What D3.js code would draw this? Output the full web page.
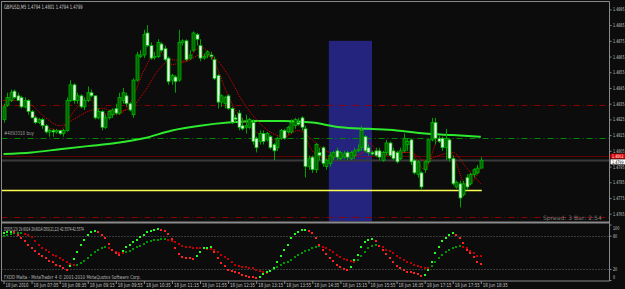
<!DOCTYPE html>
<html>
<head>
<meta charset="utf-8">
<script src="https://cdnjs.cloudflare.com/ajax/libs/d3/7.8.5/d3.min.js"></script>
<style>
body { margin: 0; background: #000; }
text { font-family: "DejaVu Sans", sans-serif; }
</style>
</head>
<body>
<div id="chart-area"></div>
<script>
// GBPUSD M5 bars, 18 Jun 2010
var opens = [1.4825,1.4834,1.4837,1.4843,1.4840,1.4839,1.4833,1.4837,1.4830,1.4826,1.4823,1.4825,1.4821,1.4817,1.4818,1.4817,1.4818,1.4816,1.4818,1.4837,
 1.4847,1.4837,1.4840,1.4833,1.4837,1.4842,1.4840,1.4826,1.4830,1.4820,1.4826,1.4828,1.4832,1.4829,1.4837,1.4840,1.4835,1.4828,1.4850,1.4865,
 1.4866,1.4880,1.4872,1.4865,1.4865,1.4873,1.4870,1.4864,1.4850,1.4852,1.4850,1.4874,1.4875,1.4864,1.4869,1.4879,1.4872,1.4864,1.4866,1.4866,
 1.4863,1.4853,1.4836,1.4835,1.4840,1.4832,1.4826,1.4829,1.4821,1.4820,1.4820,1.4823,1.4813,1.4811,1.4816,1.4812,1.4814,1.4809,1.4807,1.4813,
 1.4818,1.4817,1.4817,1.4821,1.4823,1.4826,1.4819,1.4795,1.4801,1.4793,1.4804,1.4807,1.4795,1.4797,1.4801,1.4805,1.4800,1.4801,1.4804,1.4800,
 1.4802,1.4805,1.4807,1.4814,1.4807,1.4804,1.4805,1.4805,1.4799,1.4804,1.4810,1.4805,1.4804,1.4800,1.4805,1.4809,1.4812,1.4799,1.4790,1.4791,
 1.4793,1.4798,1.4812,1.4823,1.4813,1.4813,1.4807,1.4812,1.4800,1.4782,1.4784,1.4777,1.4788,1.4784,1.4790,1.4791,1.4794];
var highs = [1.4835,1.4842,1.4844,1.4844,1.4842,1.4840,1.4839,1.4838,1.4831,1.4827,1.4826,1.4826,1.4822,1.4819,1.4819,1.4819,1.4818,1.4819,1.4839,1.4850,
 1.4848,1.4842,1.4841,1.4839,1.4846,1.4844,1.4840,1.4832,1.4831,1.4828,1.4831,1.4832,1.4835,1.4842,1.4845,1.4842,1.4836,1.4851,1.4868,1.4869,
 1.4882,1.4885,1.4874,1.4868,1.4876,1.4874,1.4872,1.4865,1.4854,1.4853,1.4882,1.4876,1.4876,1.4869,1.4881,1.4880,1.4876,1.4867,1.4869,1.4868,
 1.4865,1.4854,1.4841,1.4840,1.4841,1.4833,1.4828,1.4831,1.4826,1.4828,1.4826,1.4825,1.4814,1.4818,1.4818,1.4817,1.4815,1.4810,1.4814,1.4819,
 1.4819,1.4821,1.4825,1.4826,1.4826,1.4827,1.4821,1.4802,1.4802,1.4810,1.4807,1.4808,1.4800,1.4804,1.4805,1.4807,1.4805,1.4805,1.4805,1.4805,
 1.4807,1.4809,1.4821,1.4815,1.4809,1.4805,1.4807,1.4807,1.4805,1.4812,1.4811,1.4807,1.4805,1.4807,1.4816,1.4813,1.4813,1.4800,1.4799,1.4792,
 1.4799,1.4813,1.4826,1.4826,1.4815,1.4814,1.4819,1.4813,1.4802,1.4786,1.4786,1.4786,1.4790,1.4791,1.4794,1.4796,1.4801];
var lows = [1.4823,1.4833,1.4836,1.4838,1.4837,1.4832,1.4832,1.4828,1.4826,1.4822,1.4822,1.4819,1.4816,1.4814,1.4814,1.4816,1.4815,1.4814,1.4817,1.4836,
 1.4835,1.4835,1.4832,1.4831,1.4836,1.4839,1.4825,1.4825,1.4818,1.4819,1.4825,1.4826,1.4828,1.4828,1.4835,1.4833,1.4830,1.4826,1.4849,1.4864,
 1.4864,1.4871,1.4863,1.4863,1.4864,1.4868,1.4862,1.4847,1.4847,1.4842,1.4849,1.4872,1.4862,1.4863,1.4868,1.4872,1.4862,1.4863,1.4864,1.4863,
 1.4850,1.4832,1.4833,1.4832,1.4831,1.4822,1.4823,1.4818,1.4818,1.4816,1.4819,1.4809,1.4804,1.4809,1.4809,1.4811,1.4806,1.4799,1.4805,1.4812,
 1.4812,1.4816,1.4816,1.4819,1.4821,1.4818,1.4788,1.4793,1.4791,1.4791,1.4799,1.4795,1.4793,1.4795,1.4799,1.4799,1.4799,1.4800,1.4799,1.4799,
 1.4800,1.4804,1.4805,1.4804,1.4802,1.4802,1.4801,1.4799,1.4798,1.4802,1.4801,1.4799,1.4797,1.4799,1.4804,1.4805,1.4796,1.4790,1.4788,1.4780,
 1.4791,1.4797,1.4811,1.4809,1.4810,1.4805,1.4799,1.4798,1.4783,1.4781,1.4769,1.4776,1.4780,1.4783,1.4788,1.4790,1.4794];
var closes = [1.4833,1.4839,1.4842,1.4839,1.4837,1.4833,1.4837,1.4830,1.4826,1.4823,1.4825,1.4821,1.4817,1.4818,1.4817,1.4818,1.4816,1.4818,1.4837,1.4847,
 1.4837,1.4840,1.4833,1.4837,1.4842,1.4840,1.4826,1.4830,1.4820,1.4826,1.4830,1.4831,1.4829,1.4839,1.4842,1.4835,1.4831,1.4850,1.4866,1.4866,
 1.4879,1.4872,1.4864,1.4865,1.4874,1.4869,1.4863,1.4849,1.4853,1.4849,1.4874,1.4875,1.4863,1.4866,1.4880,1.4876,1.4864,1.4865,1.4868,1.4865,
 1.4851,1.4836,1.4840,1.4839,1.4832,1.4823,1.4825,1.4820,1.4819,1.4821,1.4825,1.4811,1.4807,1.4816,1.4811,1.4816,1.4807,1.4805,1.4813,1.4818,
 1.4813,1.4820,1.4823,1.4825,1.4822,1.4820,1.4795,1.4800,1.4793,1.4809,1.4802,1.4797,1.4799,1.4802,1.4804,1.4801,1.4804,1.4803,1.4801,1.4804,
 1.4805,1.4806,1.4818,1.4805,1.4804,1.4803,1.4802,1.4801,1.4804,1.4810,1.4802,1.4800,1.4798,1.4805,1.4813,1.4811,1.4798,1.4791,1.4798,1.4782,
 1.4798,1.4812,1.4823,1.4813,1.4811,1.4807,1.4813,1.4800,1.4784,1.4785,1.4775,1.4784,1.4782,1.4790,1.4793,1.4794,1.4799];

// moving averages (red ones sampled every 4 bars, green every 8 bars)
var maFastBars = d3.range(0, 137, 4);
var maFast = [1.4837,1.4839,1.4830,1.4821,1.4818,1.4830,1.4839,1.4829,1.4828,1.4835,1.4856,1.4869,1.4860,1.4862,1.4871,1.4862,1.4840,1.4825,
 1.4817,1.4812,1.4813,1.4822,1.4805,1.4800,1.4802,1.4804,1.4810,1.4802,1.4804,1.4804,1.4793,1.4812,1.4802,1.4783,1.4794];
var maSlow = [1.4837,1.4837,1.4834,1.4826,1.4821,1.4825,1.4830,1.4832,1.4830,1.4832,1.4842,1.4856,1.4863,1.4862,1.4866,1.4864,1.4853,1.4837,
 1.4825,1.4817,1.4814,1.4818,1.4812,1.4805,1.4802,1.4802,1.4805,1.4804,1.4804,1.4804,1.4799,1.4802,1.4804,1.4794,1.4784];
var maLongBars = d3.range(0, 137, 8);
var maLong = [1.4803,1.4804,1.4806,1.4808,1.4810,1.4813,1.4818,1.4821,1.4823,1.4824,1.4824,1.4823,1.4820,1.4819,1.4818,1.4816,1.4815,1.4814];

// horizontal levels
var levelRedTop = 1.4834;
var levelGreen = 1.4813;
var levelRedMid = 1.4802;
var levelBid = 1.4799;
var levelYellow = 1.4780;
var levelRedLow = 1.4763;
var boxBars = [92.7, 105];
var boxPrices = [1.4875, 1.4750];

// DSS indicator values
var dssFast = [84,86,87,86,82,76,70,63,57,52,47,43,39,35,32,28,25,22,19,26,
 38,51,63,72,81,86,88,86,82,76,65,54,48,45,52,59,63,68,72,77,
 82,87,89,90,92,91,88,83,74,58,47,42,40,39,38,44,50,57,58,59,
 50,40,30,25,19,16,14,12,9,7,6,5,4,6,11,15,17,22,33,44,
 55,64,75,83,87,90,91,89,84,75,64,55,47,40,34,28,23,20,18,24,
 37,46,60,68,72,74,70,62,55,47,40,32,26,22,18,15,14,13,11,7,
 10,19,33,48,60,70,76,81,85,81,75,66,55,48,41,33,29.6];
var dssSlow = [80,82,83,84,84,84,83,81,77,70,63,58,54,50,46,43,40,36,32,29,
 27,28,31,35,40,45,50,55,58,59,57,54,51,49,48,50,53,56,59,62,
 65,68,70,72,73,74,74.5,73,71,68,65,62,60,59,58.5,58,57.5,57,56.5,56,
 54,50,46,42,38,33,28,25,24,23,22,21,19,17,15,13,16,20,24,27,
 30,33,37,42,46,49,52,55,58,60,61,60,57,54,51,46,42,38,36,34,
 33.5,37,43,50,57,62,63,61,59,55,52,48,44,40,37,33,30,27,25,24,
 22.5,22,26,32,39,46,51,55,58,60,61,60,58,53,49,44,42.6];
var dssLevels = [80, 20];

// axis labels
var timeLabels = ["18 Jun 2010","18 Jun 07:05","18 Jun 08:35","18 Jun 09:15","18 Jun 09:55","18 Jun 10:35","18 Jun 11:15","18 Jun 11:55","18 Jun 12:35",
 "18 Jun 13:15","18 Jun 13:55","18 Jun 14:35","18 Jun 15:15","18 Jun 15:55","18 Jun 16:35","18 Jun 17:15","18 Jun 17:55","18 Jun 18:35"];
var priceTicks = d3.range(1.4765, 1.48951, 0.001);
var dssTicks = [100, 80, 20, 0];

var width = 625;
var height = 289;
var panel = { left: 1.5, right: 609.5, top: 1.5, mid: 222.5, bottom: 281 };
var labelColor = "#c8c8c8";

var svg = d3.select("#chart-area").append("svg")
    .attr("width", width)
    .attr("height", height)
    .style("display", "block")
    .style("background", "#0b0c0b");

//x scale (bar index)
var x = d3.scaleLinear().domain([0, 136]).range([3.5, 480.8]);
//y scales
var y = d3.scaleLinear().domain([1.4765, 1.4895]).range([213.7, 9.4]);
var yDss = d3.scaleLinear().domain([0, 100]).range([280.1, 224.6]);

// squeeze texts horizontally to the tiny terminal font width
function squeeze(sel, len) {
    sel.each(function (d, i) {
        var t = d3.select(this);
        var w = this.getComputedTextLength();
        var target = typeof len === "function" ? len(d, i) : len;
        var x0 = +t.attr("x") || 0;
        t.attr("x", 0)
            .attr("transform", "translate(" + x0 + ",0) scale(" + (target / w) + ",1)");
    });
    return sel;
}
function smallText(sel, px, len, txt, size) {
    var t = sel.append("g")
        .attr("transform", "translate(0," + px[1] + ")")
        .append("text")
        .attr("x", px[0])
        .attr("font-size", size || 6)
        .text(txt);
    squeeze(t, len);
    return t;
}

var defs = svg.append("defs");
defs.append("clipPath").attr("id", "clipMain").append("rect")
    .attr("x", panel.left).attr("y", panel.top)
    .attr("width", panel.right - panel.left).attr("height", panel.mid - panel.top - 1);
defs.append("clipPath").attr("id", "clipDss").append("rect")
    .attr("x", panel.left).attr("y", panel.mid + 1)
    .attr("width", panel.right - panel.left).attr("height", panel.bottom - panel.mid - 1);

var main = svg.append("g").attr("clip-path", "url(#clipMain)");

//box
main.append("rect")
    .attr("x", x(boxBars[0]))
    .attr("y", y(boxPrices[0]))
    .attr("width", x(boxBars[1]) - x(boxBars[0]))
    .attr("height", y(boxPrices[1]) - y(boxPrices[0]))
    .attr("fill", "#24247e");

//horizontal levels
function hline(price, color, dash, w, x2) {
    main.append("line")
        .attr("x1", panel.left).attr("x2", x2 || panel.right)
        .attr("y1", Math.round(y(price)) + 0.5).attr("y2", Math.round(y(price)) + 0.5)
        .attr("stroke", color)
        .attr("stroke-width", w)
        .attr("stroke-dasharray", dash);
}
hline(levelRedTop, "#8c0000", "6,3,1,3", 1);
hline(levelGreen, "#008a00", "6,3,1,3", 1);
hline(levelRedMid, "#b40000", "1,1", 1);
hline(levelBid, "#3a3a3a", null, 2);
hline(levelRedLow, "#8c0000", "6,3,1,3", 1);
hline(levelYellow, "#ffff50", null, 1.5, x(136) + 1);

//level label
smallText(main, [4, y(levelGreen) - 3], 30, "#4893318 buy", 5.5).attr("fill", "#a0a0a0");

//long MA
var lineLong = d3.line()
    .x(function (d, i) { return x(maLongBars[i]); })
    .y(function (d) { return y(d); })
    .curve(d3.curveMonotoneX);
main.append("path")
    .attr("d", lineLong(maLong))
    .attr("fill", "none")
    .attr("stroke", "#2eea2e")
    .attr("stroke-width", 2);

//red MAs
var lineFast = d3.line()
    .x(function (d, i) { return x(maFastBars[i]); })
    .y(function (d) { return y(d); })
    .curve(d3.curveMonotoneX);
[maFast, maSlow].forEach(function (ma) {
    main.append("path")
        .attr("d", lineFast(ma))
        .attr("fill", "none")
        .attr("stroke", "#d80000")
        .attr("stroke-width", 1)
        .attr("stroke-dasharray", "1.2,1");
});

//candles
var bars = d3.range(opens.length);
main.selectAll(".wick").data(bars).enter()
    .append("line")
    .attr("x1", function (i) { return Math.round(x(i)) + 0.5; })
    .attr("x2", function (i) { return Math.round(x(i)) + 0.5; })
    .attr("y1", function (i) { return y(highs[i]); })
    .attr("y2", function (i) { return y(lows[i]); })
    .attr("stroke", "#00a000");

main.selectAll(".body").data(bars).enter()
    .append("rect")
    .attr("x", function (i) { return Math.round(x(i)) - 1; })
    .attr("y", function (i) { return y(Math.max(opens[i], closes[i])); })
    .attr("width", 3)
    .attr("height", function (i) { return Math.max(1, Math.abs(y(opens[i]) - y(closes[i]))); })
    .attr("fill", function (i) { return closes[i] >= opens[i] ? "#006400" : "#eaffea"; })
    .attr("stroke", "#00b400")
    .attr("stroke-width", 0.8);

//texts in main panel
smallText(svg, [4, 9], 79, "GBPUSD,M5  1.4794 1.4801 1.4794 1.4799").attr("fill", labelColor);
smallText(svg, [543, 220], 59, "Spread: 3    Bar: 2:54").attr("fill", "#7a7a7a");

//dss panel
var dss = svg.append("g").attr("clip-path", "url(#clipDss)");
dssLevels.forEach(function (v) {
    dss.append("line")
        .attr("x1", panel.left).attr("x2", panel.right)
        .attr("y1", Math.round(yDss(v)) + 0.5).attr("y2", Math.round(yDss(v)) + 0.5)
        .attr("stroke", "#6a6a6a")
        .attr("stroke-dasharray", "1,2");
});

function dots(values, up, down) {
    dss.selectAll(null).data(values).enter()
        .append("rect")
        .attr("x", function (d, i) { return Math.round(x(i)) - 1; })
        .attr("y", function (d) { return Math.round(yDss(d)) - 1; })
        .attr("width", 2)
        .attr("height", 2)
        .attr("fill", function (d, i) { return i > 0 && d < values[i - 1] ? down : up; });
}
dots(dssSlow, "#009600", "#c00000");
dots(dssFast, "#22ff22", "#ff2020");

smallText(svg, [4, 231], 80, "DSS(5,13) 29.6014 29.6014   DSS(21,12) 42.5574 42.5574", 5.5).attr("fill", labelColor);
smallText(svg, [4, 279], 137, "FXDD Malta - MetaTrader 4 \u00a9 2001-2010 MetaQuotes Software Corp.", 5.5).attr("fill", "#b4b4b4");

//frame
var frame = svg.append("g").attr("stroke", "#8a8a8a").attr("fill", "none");
frame.append("path").attr("d", "M" + panel.left + "," + panel.bottom + "V" + panel.top + "H" + panel.right);
frame.append("line").attr("x1", panel.left).attr("x2", panel.right)
    .attr("y1", panel.mid).attr("y2", panel.mid).attr("stroke-width", 2);
frame.append("line").attr("x1", panel.left).attr("x2", panel.right)
    .attr("y1", panel.bottom).attr("y2", panel.bottom);

//y axis
var yAxisCall = d3.axisRight(y)
    .tickValues(priceTicks)
    .tickSize(2)
    .tickPadding(1.5)
    .tickFormat(d3.format(".4f"));
var yAxisGroup = svg.append("g")
    .attr("transform", "translate(" + panel.right + ",0)")
    .call(yAxisCall);
yAxisGroup.select(".domain").attr("d", "M0," + panel.top + "V" + panel.bottom).attr("stroke", "#8a8a8a");

var yDssAxisCall = d3.axisRight(yDss)
    .tickValues(dssTicks)
    .tickSize(2)
    .tickPadding(1.5)
    .tickFormat(d3.format("d"));
var yDssAxisGroup = svg.append("g")
    .attr("transform", "translate(" + panel.right + ",0)")
    .call(yDssAxisCall);
yDssAxisGroup.select(".domain").remove();

[yAxisGroup, yDssAxisGroup].forEach(function (g) {
    g.selectAll(".tick line").attr("stroke", "#8a8a8a");
    g.selectAll(".tick text")
        .attr("fill", labelColor)
        .attr("font-size", 5)
        .attr("dy", "0.3em")
        .attr("font-family", "DejaVu Sans");
});
yDssAxisGroup.selectAll(".tick text")
    .attr("dy", function (d) { return d === 100 ? "0.9em" : d === 0 ? "-0.3em" : "0.3em"; });
squeeze(yAxisGroup.selectAll(".tick text"), 11.5);
squeeze(yDssAxisGroup.selectAll(".tick text"), function (d) { return String(d).length * 2.1; });

//price labels on axis
[[levelRedMid, "#e00000", "#ffffff"], [levelBid, "#ffffff", "#000000"]].forEach(function (p, k) {
    var yy = y(p[0]) + (k === 0 ? 0.6 : 1.6);
    svg.append("rect")
        .attr("x", panel.right + 1).attr("y", yy - 2.5)
        .attr("width", 15).attr("height", 5)
        .attr("fill", p[1]);
    smallText(svg, [panel.right + 2.5, yy + 1.8], 11.5, d3.format(".4f")(p[0]), 4.8).attr("fill", p[2]);
});

//x axis
var xAxisCall = d3.axisBottom(x)
    .tickValues(d3.range(0, 137, 8))
    .tickSize(3)
    .tickPadding(0)
    .tickFormat(function (d) { return timeLabels[d / 8]; });
var xAxisGroup = svg.append("g")
    .attr("transform", "translate(0," + panel.bottom + ")")
    .call(xAxisCall);
xAxisGroup.select(".domain").remove();
xAxisGroup.selectAll(".tick line").attr("stroke", "#8a8a8a");
xAxisGroup.selectAll(".tick text")
    .attr("text-anchor", "start")
    .attr("x", 1.5)
    .attr("dy", "0.62em")
    .attr("fill", labelColor)
    .attr("font-size", 5.6)
    .attr("font-family", "DejaVu Sans");
squeeze(xAxisGroup.selectAll(".tick text"), function (d) { return d === 0 ? 23 : 25; });
</script>
</body>
</html>
